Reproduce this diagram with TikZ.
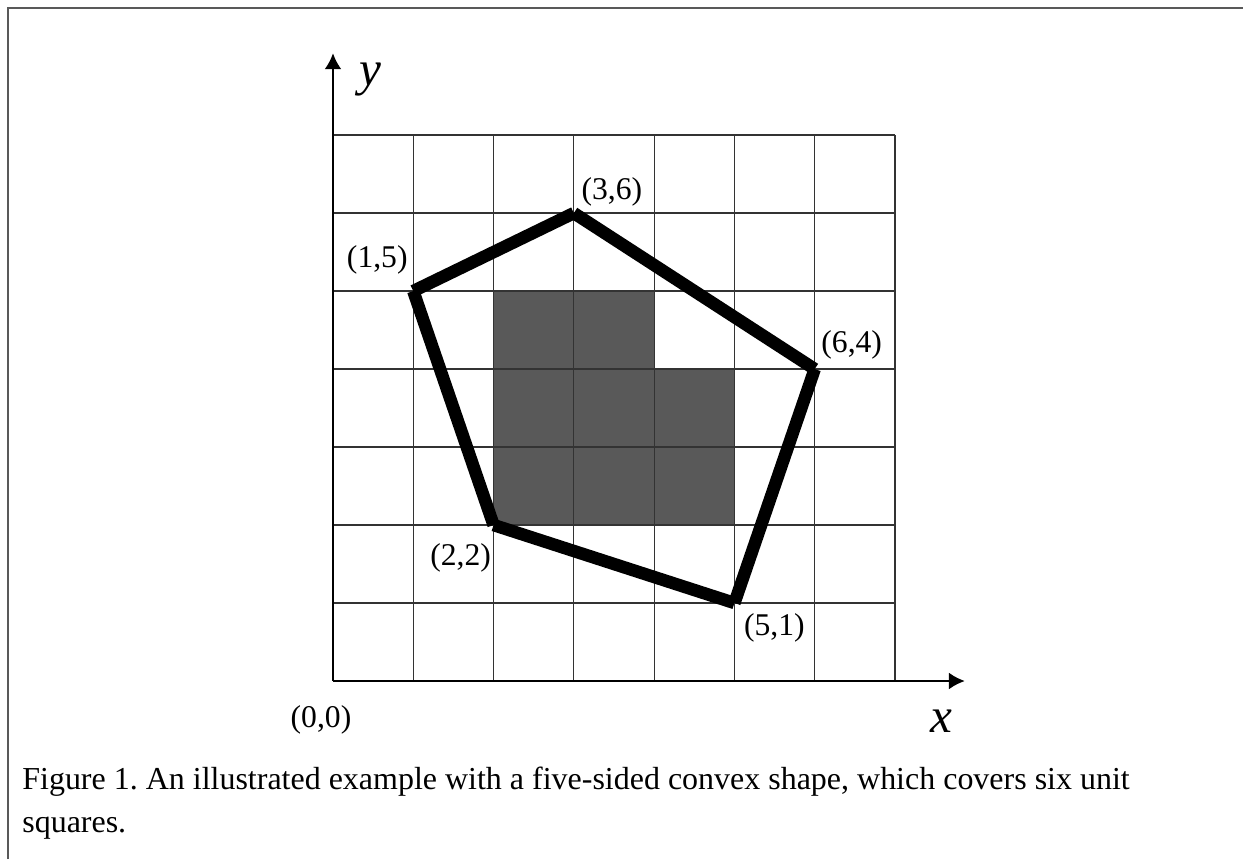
\documentclass[tikz,border=0pt]{standalone}
\usepackage{fontspec}
\setmainfont{Liberation Serif}
\usetikzlibrary{arrows.meta}

\begin{document}
\frenchspacing
\begin{tikzpicture}[
    x=0.02cm, y=0.02cm,
    >={Latex[length=0.32cm, width=0.34cm]},
    frameline/.style={draw=black!65, line width=1.1pt},
    gridline/.style={draw=black!80, line width=0.7pt},
    axis/.style={->, line width=1.3pt},
    cellfill/.style={fill=black!65},
    hull/.style={line width=0.25cm, line cap=butt},
    ptlabel/.style={font=\fontsize{18}{21}\selectfont, inner sep=0pt},
    axlabel/.style={font=\fontsize{28}{32}\selectfont\itshape, inner sep=0pt},
    captext/.style={font=\fontsize{18.2}{24}\selectfont, align=left, anchor=base west, inner sep=0pt}
]
\useasboundingbox (0,0) rectangle (1243,859);
% page frame (left and top edges only)
\coordinate (fbot) at (8,0);
\coordinate (fcorner) at (8,851);
\coordinate (fright) at (1243,851);
\draw[frameline] (fbot) -- (fcorner) -- (fright);

\begin{scope}[shift={(333,178)}, x=1.606cm, y=1.56cm]
    \coordinate (origin) at (0,0);
    \coordinate (xend) at (7.87,0);
    \coordinate (yend) at (0,8.05);
    % covered unit squares
    \fill[cellfill] (2,2) rectangle (4,5);
    \fill[cellfill] (4,2) rectangle (5,4);
    \foreach \i in {1,...,7} {
        \draw[gridline] (\i,0) -- (\i,7);
        \draw[gridline] (0,\i) -- (7,\i);
    }
    \draw[axis] (origin) -- (xend);
    \draw[axis] (origin) -- (yend);
    % vertices of the convex shape
    \coordinate (p15) at (1,5);
    \coordinate (p36) at (3,6);
    \coordinate (p64) at (6,4);
    \coordinate (p51) at (5,1);
    \coordinate (p22) at (2,2);
    \draw[hull] (p15) -- (p36);
    \draw[hull] (p36) -- (p64);
    \draw[hull] (p64) -- (p51);
    \draw[hull] (p51) -- (p22);
    \draw[hull] (p22) -- (p15);
\end{scope}

\node[ptlabel] (l15) at ([shift={(-36,31)}]p15) {(1,5)};
\node[ptlabel] (l36) at ([shift={(38,21)}]p36) {(3,6)};
\node[ptlabel] (l64) at ([shift={(37,24)}]p64) {(6,4)};
\node[ptlabel] (l51) at ([shift={(40,-25)}]p51) {(5,1)};
\node[ptlabel] (l22) at ([shift={(-33,-33)}]p22) {(2,2)};
\node[ptlabel] (l00) at ([shift={(-12,-39)}]origin) {(0,0)};
\node[axlabel] (ylab) at ([shift={(37,-26)}]yend) {y};
\node[axlabel] (xlab) at ([shift={(-23,-40)}]xend) {x};

\node[captext] (caption) at (22,27)
    {Figure 1. An illustrated example with a five-sided convex shape, which covers six unit\\squares.};
\end{tikzpicture}
\end{document}
